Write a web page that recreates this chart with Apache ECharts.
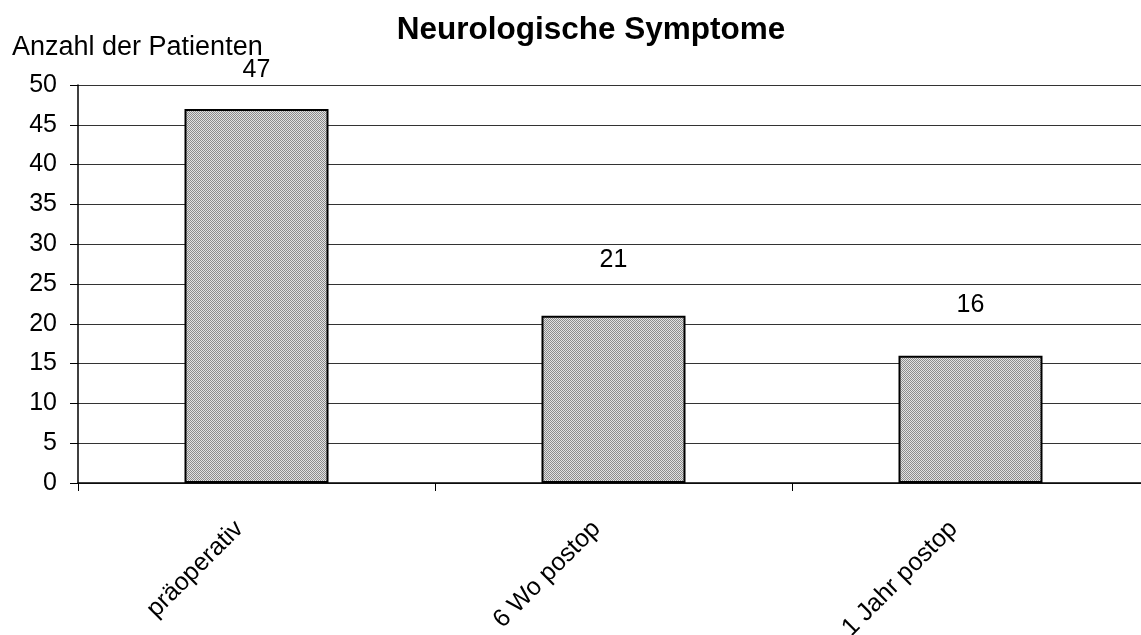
<!DOCTYPE html>
<html>
<head>
<meta charset="utf-8">
<script src="https://cdn.jsdelivr.net/npm/echarts@6/dist/echarts.min.js"></script>
<style>
  html, body { margin: 0; padding: 0; background: #fff; }
  #chart { width: 1141px; height: 635px; }
</style>
</head>
<body>
<div id="chart"></div>
<script>
// Category labels and patient counts
const categories = ['präoperativ', '6 Wo postop', '1 Jahr postop'];
const patients = [47, 21, 16];
const yTicks = { min: 0, max: 50, interval: 5 };
// Distance of each value label above its bar
const labelGaps = [26, 43, 38];

// Fine checkered grey fill for the bars
function checkerPattern() {
  const c = document.createElement('canvas');
  c.width = 2; c.height = 2;
  const ctx = c.getContext('2d');
  ctx.fillStyle = '#e2e2e2';
  ctx.fillRect(0, 0, 2, 2);
  ctx.fillStyle = '#8c8c8c';
  ctx.fillRect(0, 0, 1, 1);
  ctx.fillRect(1, 1, 1, 1);
  return c;
}

const font = 'Liberation Sans, Arial, sans-serif';
const chart = echarts.init(document.getElementById('chart'), null, { renderer: 'canvas' });

chart.setOption({
  animation: false,
  backgroundColor: '#ffffff',
  title: {
    text: 'Neurologische Symptome',
    left: 586, top: 9, textAlign: 'center',
    textStyle: { fontFamily: font, fontSize: 31.5, fontWeight: 'bold', color: '#000' }
  },
  grid: {
    left: 78, top: 85, width: 1071, height: 398,
    containLabel: false, outerBoundsMode: 'none'
  },
  xAxis: {
    type: 'category',
    data: categories,
    boundaryGap: true,
    axisLine: { lineStyle: { color: '#000', width: 1.5 } },
    axisTick: { show: true, alignWithLabel: false, length: 8, lineStyle: { color: '#000', width: 1 } },
    axisLabel: {
      rotate: 45, margin: 25, padding: [0, 24, 0, 0],
      fontFamily: font, fontSize: 25, color: '#000'
    },
    splitLine: { show: false }
  },
  yAxis: {
    type: 'value',
    min: yTicks.min, max: yTicks.max, interval: yTicks.interval,
    name: 'Anzahl der Patienten',
    nameLocation: 'end',
    nameGap: 24,
    nameTextStyle: { fontFamily: font, fontSize: 27, color: '#000', align: 'left', padding: [0, 0, 0, -66] },
    axisLine: { show: true, lineStyle: { color: '#000', width: 1.5 } },
    axisTick: { show: true, length: 8, lineStyle: { color: '#000' } },
    axisLabel: { margin: 21, fontFamily: font, fontSize: 25, color: '#000' },
    splitLine: { show: true, lineStyle: { color: '#333', width: 1 } }
  },
  series: [{
    type: 'bar',
    barWidth: 144,
    data: patients.map((v, i) => ({
      value: v,
      label: { distance: labelGaps[i] }
    })),
    itemStyle: {
      color: { image: checkerPattern(), repeat: 'repeat' },
      borderColor: '#000',
      borderWidth: 2
    },
    label: {
      show: true, position: 'top',
      fontFamily: font, fontSize: 25, color: '#000'
    }
  }]
});
</script>
</body>
</html>
